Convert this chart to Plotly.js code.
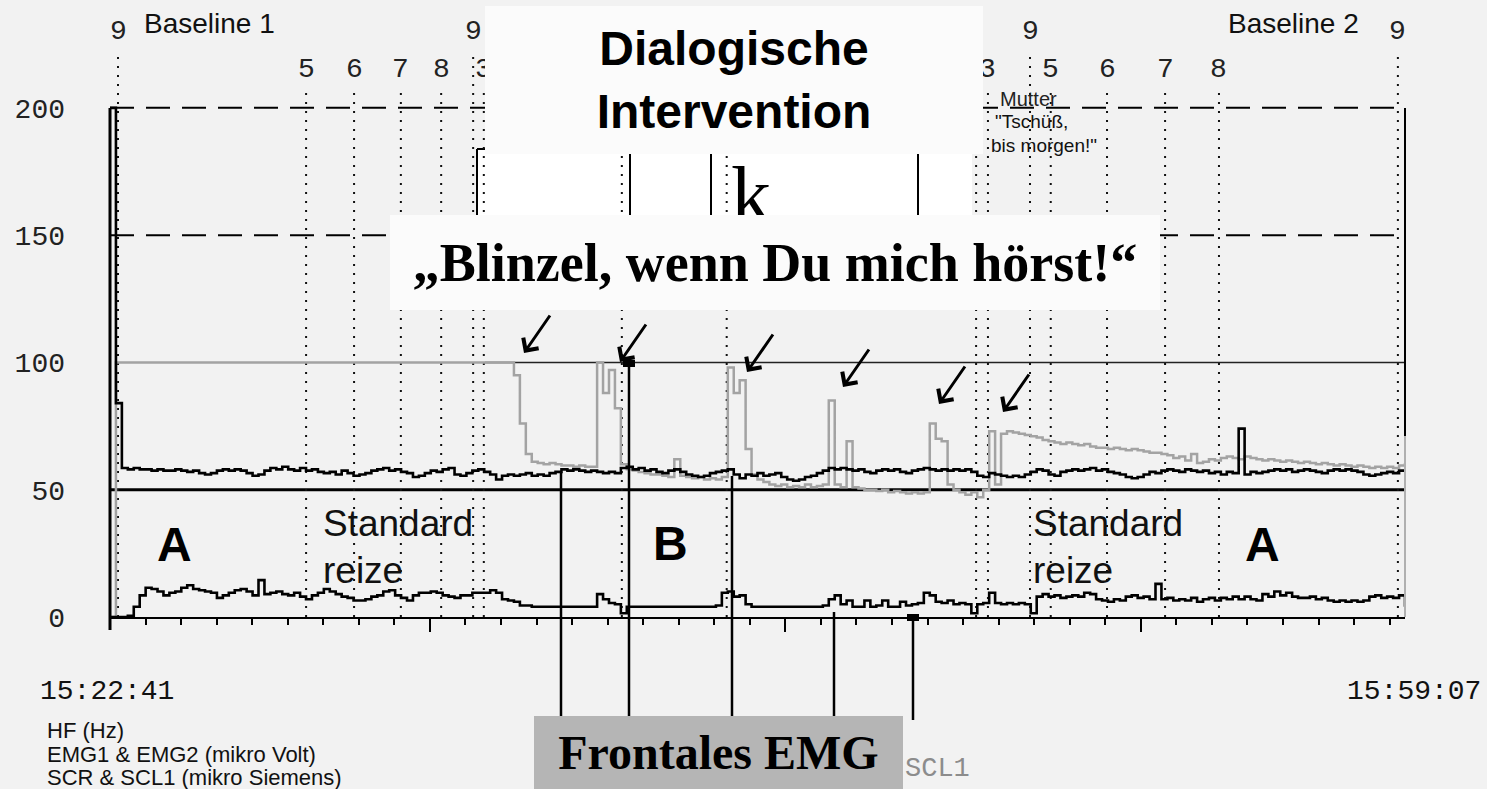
<!DOCTYPE html>
<html><head><meta charset="utf-8">
<script src="https://cdn.plot.ly/plotly-3.0.1.min.js"></script>
<style>html,body{margin:0;padding:0;background:#f2f2f2;}#chart{width:1487px;height:789px;}</style>
</head><body><div id="chart"></div>
<script>
// ---------------- DATA ----------------
const DURATION_S = 2186;               // 15:22:41 -> 15:59:07
const startLabel = '15:22:41';
const endLabel = '15:59:07';
const yTickVals = [0, 50, 100, 150, 200];
const yTickText = ['0', '50', '100', '150', '200'];
const refLevels = [200, 150, 100, 50];

// HF (black upper trace), sampled evenly over the recording
const hf = [
 200,84,58.5,58,58.5,58,58,57.5,58,57.5,
 57.5,58,57.5,57,57.5,56.5,56,56.5,57.5,58,
 57.5,58,57.5,56.5,55.5,56,57.5,58.5,58,59,
 58,57.5,58.5,57.5,58,57,56.5,57,56,57.5,
 56.5,55.5,56,56.5,57.5,58,58.5,57.5,58,57,
 56.5,55,55.5,56.5,57.5,57,58,58.5,56,55.5,
 56.5,57.5,58,57,56,54,55.5,56,55.5,56,
 56.5,55.5,56,55.5,56.5,57,58,57.5,58,57.5,
 57,57.5,57,56.5,57,56.5,58.5,59,58,58.5,
 57.5,58,57,56.5,57.5,58,57,56,55.5,55,
 55.5,56.5,57,57.5,58,56,54.5,56,55.5,56.5,
 55.5,56,56.5,55,54,53.5,54,55,55.5,56.5,
 57.5,58.5,58,58.5,58,57.5,58,57,56.5,57.5,
 58,57.5,58,57,56.5,57.5,58,58.5,58,57.5,
 58,57.5,58,57.5,58,57,55.5,55,56.5,56,
 55.5,55,55.5,55,56,57,58,57.5,56,55.5,
 57,57.5,58,57.5,58,58.5,57.5,58,57,56.5,
 56,55,54.5,55,56,57,56.5,57.5,58,57.5,
 57,58,57.5,57,57.5,56.5,57,56,57,56.5,
 74,56,57,56.5,57,57.5,58,57.5,58,57,
 57.5,58,57.5,57,56.5,57.5,58,57.5,58,57.5,
 57,56,55.5,56,56.5,57,56.5,57.5,57
];

// EMG (grey trace)
const emg = [
 0,100,100,100,100,100,100,100,100,100,
 100,100,100,100,100,100,100,100,100,100,
 100,100,100,100,100,100,100,100,100,100,
 100,100,100,100,100,100,100,100,100,100,
 100,100,100,100,100,100,100,100,100,100,
 100,100,100,100,100,100,100,100,100,100,
 100,100,100,100,100,100,100,100,95,76,
 64,61,60.5,60,60.5,60,59.5,59.5,59,59.5,
 59,59,100,88,97,82,60,58,57.5,57,
 56.5,56,56,55.5,55,62,55.5,55,54.5,55,
 54,54.5,54,55,98,88,93,66,56,54,
 53,52,51.5,52,51,51.5,51,52,51,51.5,
 52,85,52,51,69,51,50.5,50,50,49.5,
 50,49,49.5,49,48.5,49,48.5,49,76,70,
 69,52,50,49,48,49,47,50,73,52,
 72,73,72.5,72,71.5,71,70.5,69.5,69,68.5,
 68,68.5,68,67.5,68,67,66.5,66.5,66,66.5,
 66,65.5,66,65.5,65,64.5,64.5,64,63.5,62.5,
 63,61.5,64,60.5,61,62,61.5,62.5,63,62.5,
 62,63,62.5,62,61.5,62,61.5,61,61.5,61,
 60.5,61,60.5,60,60.5,60,59.5,60,59.5,59,
 59.5,59,58.5,59,58.5,59,58.5,59.5,60.5
];

// SCL / lower black trace
const scl = [
 0,0,0,0.5,4,8.5,11.5,11,10,8.5,
 9.5,10,11.5,12.5,11,10.5,10,9.5,7.5,8.5,
 9.5,10.5,11,10,8.5,14.5,9,9.5,10,9,
 8.5,9.5,8,7,8.5,9.5,11,10,9,8,
 7.5,6.5,6.5,7,8,8.5,10,10.5,8.5,7.5,
 6.5,8.5,9.5,9.5,10,9.5,8.5,8,7.5,8.5,
 8.5,9.5,9.5,9.5,10.5,9.5,7,6.5,6,4.5,
 4.5,4,4,4,4,4,4,4,4,4,
 4,4,9,7,5.5,5,1.5,4,4,4,
 4,4,4,4,4,4,4,4,4,4,
 4,4,4.5,9.5,10,8,8.5,5,4,4,
 4,4,4,4,4,4,4,4,4,4,
 4.5,7,8.5,5,6.5,4,4,6.5,4,4.5,
 6.5,4,4,6,4.5,5,5.5,9.5,8.5,6,
 5.5,6.5,5,5.5,5,1.5,5,5.5,9.5,5.5,
 5,5.5,5,5.5,5,1.5,8,9,8,8.5,
 7.5,8,8.5,8,9.5,9,7,6.5,6,7,
 6.5,8,8.5,7.5,8,7,13,7,7.5,6.5,
 7,6.5,7.5,6,7,7.5,6.5,7.5,7,8,
 7,8,7,6.5,9,8,10,8.5,9.5,8,
 7.5,7.5,8,7,7.5,6.5,6,6.5,6,6.5,
 6,6.5,8,8.5,7.5,8,7.5,8.5,4
];

// stimulus / event markers (seconds from start) and their labels
const eventTimes  = [13.5, 331, 412, 491, 559, 613, 631, 864, 1041, 1462, 1482, 1553, 1588, 1683, 1781, 1872, 2174];
const eventLabels = ['9','5','6','7','8','9','3','','','','3','9','5','6','7','8','9'];

// ---------------- LAYOUT HELPERS ----------------
const W = 1487, H = 789;
const M = {l: 110, r: 82, t: 6, b: 172};
const PW = W - M.l - M.r, PH = H - M.t - M.b;
const YMAX = 240;
const px = x => (x - M.l) / PW;
const py = y => (H - M.b - y) / PH;

const SANS = 'Liberation Sans, Arial, sans-serif';
const SERIF = 'Liberation Serif, Times New Roman, serif';
const MONO = 'Liberation Mono, DejaVu Sans Mono, monospace';

const N = hf.length;
const dt = DURATION_S / (N - 1);
const t = hf.map((_, i) => i * dt);

const traces = [
  {x: t, y: emg, type: 'scatter', mode: 'lines', line: {color: '#a3a3a3', width: 2.5, shape: 'hv'}, hoverinfo: 'skip', name: 'EMG'},
  {x: t, y: hf, type: 'scatter', mode: 'lines', line: {color: '#000', width: 2.6, shape: 'hv'}, hoverinfo: 'skip', name: 'HF'},
  {x: t, y: scl, type: 'scatter', mode: 'lines', line: {color: '#000', width: 2.6, shape: 'hv'}, hoverinfo: 'skip', name: 'SCL'}
];

const shapes = [];
const pline = (x0, y0, x1, y1, color, width, layer) => ({type: 'line', xref: 'paper', yref: 'paper',
  x0: px(x0), y0: py(y0), x1: px(x1), y1: py(y1), line: {color: color, width: width}, layer: layer || 'above'});

// picture fragment behind the overlay boxes
shapes.push({type: 'rect', xref: 'paper', yref: 'paper', x0: px(477), x1: px(972), y0: py(216), y1: py(149),
  fillcolor: '#ffffff', line: {width: 0}, layer: 'below'});
shapes.push(pline(477, 149, 477, 216, '#000', 2, 'below'));
shapes.push(pline(477, 149, 487, 149, '#000', 2, 'below'));
shapes.push(pline(630, 154, 630, 216, '#000', 2, 'below'));
shapes.push(pline(711, 154, 711, 216, '#000', 2, 'below'));
shapes.push(pline(918, 154, 918, 216, '#000', 2, 'below'));

// reference levels
refLevels.forEach(lvl => {
  const st = lvl >= 150 ? {color: '#000', width: 2, dash: '24px,12px'}
           : lvl === 100 ? {color: '#222', width: 1.5} : {color: '#000', width: 3};
  shapes.push({type: 'line', xref: 'paper', yref: 'y', x0: lvl === 100 ? px(485) : 0, x1: 1, y0: lvl, y1: lvl, line: st, layer: 'below'});
});

// event dotted lines
eventTimes.forEach((et, i) => {
  const top = eventLabels[i] === '9' ? (H - M.b - 50) / PH * YMAX : (H - M.b - 87) / PH * YMAX;
  shapes.push({type: 'line', xref: 'x', yref: 'y', x0: et, x1: et, y0: 0, y1: top,
    line: {color: '#111', width: 2, dash: '2px,7px'}, layer: 'below'});
});

// frame
shapes.push(pline(110, 108, 110, 630, '#000', 3));
shapes.push(pline(1405, 108, 1405, 436, '#000', 2));
shapes.push(pline(1405, 436, 1405, 617, '#b0b0b0', 2));

// pointer lines from "Frontales EMG" and SCL1
[[561, 472], [629, 363], [732, 476], [834, 612]].forEach(p => shapes.push(pline(p[0], p[1], p[0], 716, '#000', 2.5)));
shapes.push(pline(913, 617, 913, 720, '#000', 2.5));
shapes.push({type: 'rect', xref: 'paper', yref: 'paper', x0: px(623), x1: px(635), y0: py(367), y1: py(360), fillcolor: '#000', line: {width: 0}});
shapes.push({type: 'rect', xref: 'paper', yref: 'paper', x0: px(907), x1: px(919), y0: py(621), y1: py(614), fillcolor: '#000', line: {width: 0}});

// ---------------- ANNOTATIONS ----------------
const ann = [];
const txt = (x, y, text, font, opts) => Object.assign({xref: 'paper', yref: 'paper', x: px(x), y: py(y), text: text,
  showarrow: false, font: font, xanchor: 'center', yanchor: 'middle', borderpad: 0, borderwidth: 0}, opts || {});

eventTimes.forEach((et, i) => {
  const lab = eventLabels[i];
  if (!lab) return;
  const top = lab === '9';
  ann.push({xref: 'x', yref: 'paper', x: et, y: py(top ? 32 : 70), text: lab, showarrow: false,
    xanchor: 'center', yanchor: 'middle', borderpad: 0, borderwidth: 0,
    font: {family: MONO, size: 28, color: '#222'}});
});

ann.push(txt(751, 195, 'k', {family: SERIF, size: 80, color: '#000'}));
ann.push(txt(1000, 99, 'Mutter', {family: SANS, size: 20, color: '#222'}, {xanchor: 'left'}));
ann.push(txt(995, 122, '"Tschüß,', {family: SANS, size: 19, color: '#111'}, {xanchor: 'left'}));
ann.push(txt(991, 145, 'bis morgen!"', {family: SANS, size: 19, color: '#111'}, {xanchor: 'left'}));
ann.push(txt(144, 23, 'Baseline 1', {family: SANS, size: 28, color: '#111'}, {xanchor: 'left'}));
ann.push(txt(1228, 23, 'Baseline 2', {family: SANS, size: 28, color: '#111'}, {xanchor: 'left'}));

ann.push(txt(734, 80, '<b>Dialogische<br>Intervention</b>', {family: SANS, size: 48, color: '#000'},
  {width: 498, height: 148, bgcolor: '#fbfbfb'}));
ann.push(txt(775, 262.5, '<b>\u201EBlinzel, wenn Du mich hörst!\u201C</b>', {family: SERIF, size: 54, color: '#000'},
  {width: 770, height: 95, bgcolor: '#fbfbfb'}));

[[524, 353], [620, 362], [747, 372], [843, 387], [939, 404], [1003, 412]].forEach(a => {
  ann.push({xref: 'paper', yref: 'paper', x: px(a[0]), y: py(a[1]), text: '', showarrow: true,
    ax: 27, ay: -39, arrowhead: 4, arrowsize: 1.2, arrowwidth: 3, arrowcolor: '#000', standoff: 0});
});

ann.push(txt(174, 544.5, '<b>A</b>', {family: SANS, size: 48, color: '#000'}));
ann.push(txt(670, 543.5, '<b>B</b>', {family: SANS, size: 48, color: '#000'}));
ann.push(txt(1262, 544.5, '<b>A</b>', {family: SANS, size: 48, color: '#000'}));
ann.push(txt(323, 523.5, 'Standard', {family: SANS, size: 37, color: '#111'}, {xanchor: 'left'}));
ann.push(txt(323, 570, 'reize', {family: SANS, size: 37, color: '#111'}, {xanchor: 'left'}));
ann.push(txt(1033, 523.5, 'Standard', {family: SANS, size: 37, color: '#111'}, {xanchor: 'left'}));
ann.push(txt(1033, 570, 'reize', {family: SANS, size: 37, color: '#111'}, {xanchor: 'left'}));

ann.push(txt(40, 691, startLabel, {family: MONO, size: 28, color: '#111'}, {xanchor: 'left'}));
ann.push(txt(1481, 691, endLabel, {family: MONO, size: 28, color: '#111'}, {xanchor: 'right'}));
ann.push(txt(47, 730, 'HF (Hz)', {family: SANS, size: 22, color: '#111'}, {xanchor: 'left'}));
ann.push(txt(47, 754, 'EMG1 &amp; EMG2 (mikro Volt)', {family: SANS, size: 22, color: '#111'}, {xanchor: 'left'}));
ann.push(txt(47, 778, 'SCR &amp; SCL1 (mikro Siemens)', {family: SANS, size: 22, color: '#111'}, {xanchor: 'left'}));
ann.push(txt(905, 769, 'SCL1', {family: MONO, size: 27, color: '#8c8c8c'}, {xanchor: 'left'}));

ann.push(txt(718.5, 752.5, '<b>Frontales EMG</b>', {family: SERIF, size: 48, color: '#000'},
  {width: 369, height: 73, bgcolor: '#b5b5b5'}));

const layout = {
  width: W, height: H, autosize: false,
  margin: {l: M.l, r: M.r, t: M.t, b: M.b, pad: 0},
  paper_bgcolor: '#f2f2f2', plot_bgcolor: 'rgba(0,0,0,0)',
  showlegend: false,
  xaxis: {range: [0, DURATION_S], showgrid: false, zeroline: false, showline: true, linecolor: '#000', linewidth: 2,
    ticks: 'outside', tick0: 540, dtick: 600, ticklen: 13, tickwidth: 2, tickcolor: '#000', showticklabels: false,
    minor: {dtick: 60, ticks: 'outside', ticklen: 6, tickwidth: 2, tickcolor: '#000', showgrid: false}},
  yaxis: {range: [0, YMAX], showgrid: false, zeroline: false, showline: false, ticks: '',
    tickmode: 'array', tickvals: yTickVals, ticktext: yTickText,
    tickfont: {family: MONO, size: 28, color: '#222'}, ticklabelstandoff: 44},
  shapes: shapes,
  annotations: ann
};

Plotly.newPlot('chart', traces, layout, {staticPlot: true, displayModeBar: false});
</script>
</body></html>
